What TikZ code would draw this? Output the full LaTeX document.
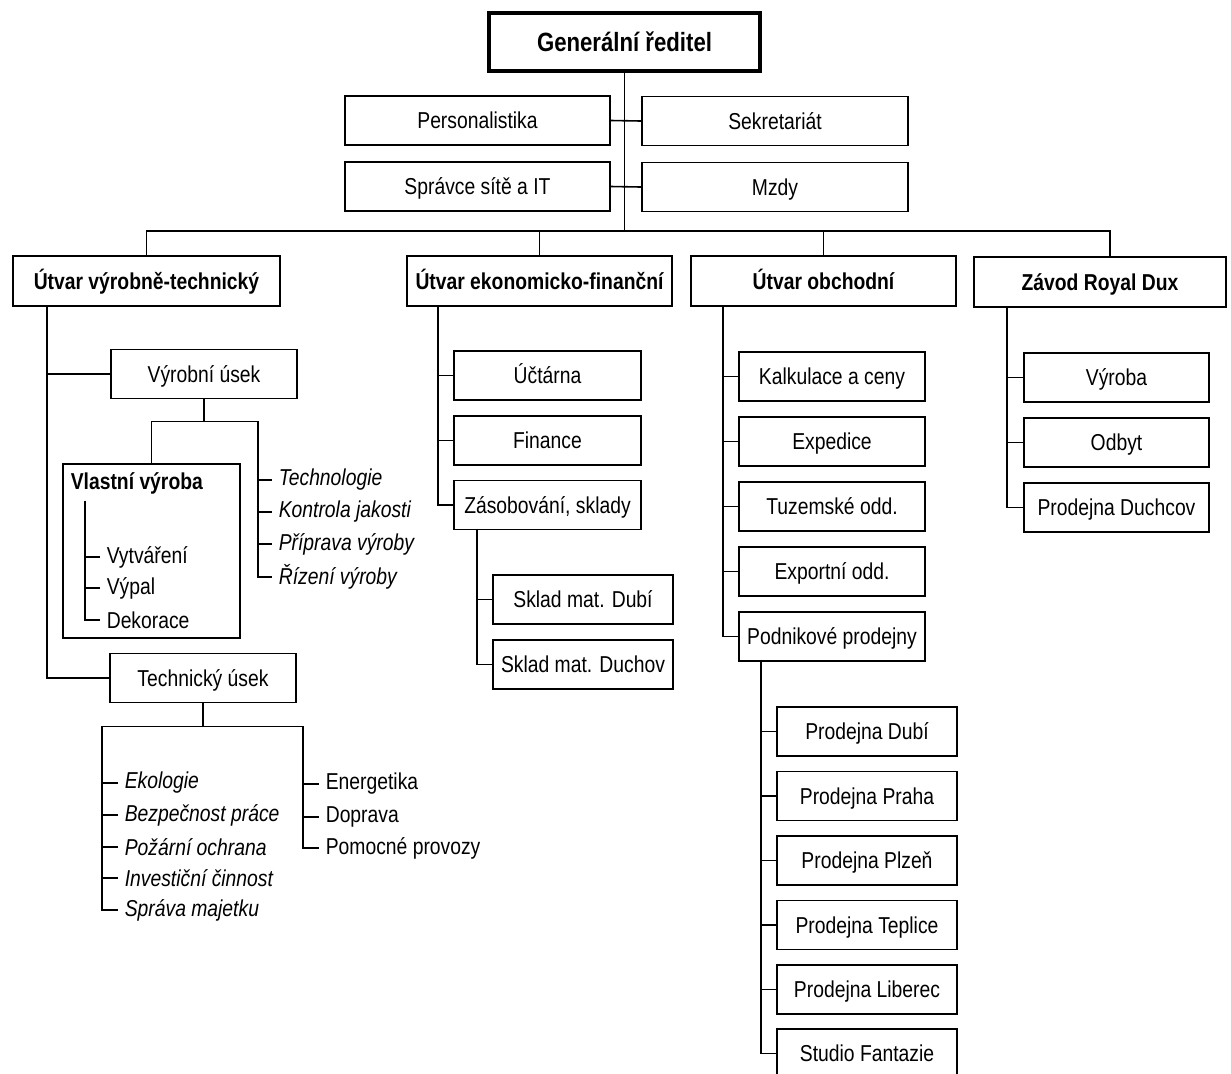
\documentclass[tikz,border=0pt]{standalone}
\usepackage{fontspec}
\setmainfont[FakeStretch=0.84]{Liberation Sans}

\begin{document}
\begin{tikzpicture}[
  x=0.5pt,y=-0.5pt,
  line width=0.8pt,
  every node/.style={font=\fontsize{11.5}{13}\selectfont},
  unit/.style={draw,line width=0.8pt,minimum height=24.5pt,inner sep=0pt,text height=8.5pt,text depth=0.3pt},
  head/.style={unit,minimum height=25pt,font=\fontsize{11.5}{13}\selectfont\bfseries},
  item/.style={anchor=west,inner sep=3pt},
  task/.style={item,font=\fontsize{11.5}{13}\selectfont\itshape}
]
  \useasboundingbox (0,0) rectangle (1231,1073);

  \node[draw,line width=2pt,minimum width=135.5pt,minimum height=29pt,inner sep=0pt,
        text height=9.6pt,text depth=0.3pt,
        font=\fontsize{13.2}{15}\selectfont\bfseries] (gr) at (624.5,42) {Generální ředitel};

  \node[unit,minimum width=132.5pt] (pers) at (477.5,120.5) {Personalistika};
  \node[unit,minimum width=133pt] (sekr) at (775,121) {Sekretariát};
  \node[unit,minimum width=132.5pt] (sprava) at (477.5,186.5) {Správce sítě a IT};
  \node[unit,minimum width=133pt] (mzdy) at (775,187) {Mzdy};

  \node[head,minimum width=133.5pt] (vt) at (146.5,281) {Útvar výrobně-technický};
  \node[head,minimum width=132.5pt] (ef) at (539.5,281) {Útvar ekonomicko-finanční};
  \node[head,minimum width=132.5pt] (ob) at (823.5,281) {Útvar obchodní};
  \node[head,minimum width=126pt] (rd) at (1100,282) {Závod Royal Dux};

  \coordinate (ybus) at (0,231);
  \coordinate (xrd) at (1110,0);
  \draw (gr.south) -- (gr.south |- ybus);
  \draw (vt.north) |- (xrd |- ybus) -- (xrd |- rd.north);
  \draw (ef.north) -- (ef.north |- ybus);
  \draw (ob.north) -- (ob.north |- ybus);
  \draw (pers.east) -- (sekr.west);
  \draw (sprava.east) -- (mzdy.west);

  % vyrobne-technicky
  \coordinate (xvt) at (47,0);
  \node[unit,minimum width=93pt] (vyr) at (204,374) {Výrobní úsek};
  \node[unit,minimum width=93pt] (tech) at (203,678) {Technický úsek};
  \draw (vt.south -| xvt) |- (tech.west);
  \draw (vyr.west) -- (vyr.west -| xvt);

  \node[draw,minimum width=88.5pt,minimum height=87pt,inner sep=0pt] (vlast) at (151.5,551) {};
  \node[item,font=\fontsize{11.5}{13}\selectfont\bfseries] (vlastT) at (64,483) {Vlastní výroba};
  \foreach \n/\y/\t in {vytv/557/Vytváření,vypal/588/Výpal,dek/620/Dekorace}
    \node[item] (\n) at (100,\y) {\t};
  \coordinate (xvl) at (85,0);
  \draw (vlastT.south -| xvl) |- (dek.west);
  \foreach \n in {vytv,vypal}
    \draw (\n.west -| xvl) -- (\n.west);

  \foreach \n/\y/\t in {tgl/480/Technologie,kj/512/Kontrola jakosti,pv/544/Příprava výroby,rv/577/Řízení výroby}
    \node[task] (\n) at (272,\y) {\t};
  \coordinate (xvr) at (258,0);
  \draw (vyr.south) -- ++(0,22) coordinate (vj);
  \draw (vlast.north) |- (vj) -| (rv.west -| xvr) -- (rv.west);
  \foreach \n in {tgl,kj,pv}
    \draw (\n.west -| xvr) -- (\n.west);

  \foreach \n/\y/\t in {eko/783/Ekologie,bp/815/Bezpečnost práce,po/847/Požární ochrana,ic/878/Investiční činnost,sm/910/Správa majetku}
    \node[task] (\n) at (118,\y) {\t};
  \foreach \n/\y/\t in {ener/784/Energetika,dop/817/Doprava,pp/848/Pomocné provozy}
    \node[item] (\n) at (319,\y) {\t};
  \coordinate (xtl) at (102,0);
  \coordinate (xtr) at (303,0);
  \draw (tech.south) -- ++(0,23) coordinate (tj);
  \draw (sm.west) -| (xtl |- tj) -- (xtr |- tj) |- (pp.west);
  \foreach \n in {eko,bp,po,ic}
    \draw (\n.west -| xtl) -- (\n.west);
  \foreach \n in {ener,dop}
    \draw (\n.west -| xtr) -- (\n.west);

  % ekonomicko-financni
  \coordinate (xef) at (438,0);
  \foreach \n/\y/\t in {uct/375.5/Účtárna,fin/440.5/Finance,zas/505/{Zásobování, sklady}}
    \node[unit,minimum width=93.5pt] (\n) at (547.5,\y) {\t};
  \draw (ef.south -| xef) |- (zas.west);
  \foreach \n in {uct,fin}
    \draw (\n.west -| xef) -- (\n.west);
  \coordinate (xsk) at (477,0);
  \foreach \n/\y/\t in {skd/599.5/Sklad mat. Dubí,skch/664.5/Sklad mat. Duchov}
    \node[unit,minimum width=90pt] (\n) at (583,\y) {\t};
  \draw (zas.south -| xsk) |- (skch.west);
  \draw (skd.west -| xsk) -- (skd.west);

  % obchodni
  \coordinate (xob) at (723,0);
  \foreach \n/\y/\t in {kalk/376.5/Kalkulace a ceny,exped/441.5/Expedice,tuz/506.5/Tuzemské odd.,expo/571.5/Exportní odd.,podn/636.5/Podnikové prodejny}
    \node[unit,minimum width=93pt] (\n) at (832,\y) {\t};
  \draw (ob.south -| xob) |- (podn.west);
  \foreach \n in {kalk,exped,tuz,expo}
    \draw (\n.west -| xob) -- (\n.west);
  \coordinate (xpr) at (761,0);
  \foreach \n/\y/\t in {pdub/731.5/Prodejna Dubí,ppra/796/Prodejna Praha,pplz/860.5/Prodejna Plzeň,ptep/925/Prodejna Teplice,plib/989.5/Prodejna Liberec,stf/1053.5/Studio Fantazie}
    \node[unit,minimum width=90pt] (\n) at (867,\y) {\t};
  \draw (podn.south -| xpr) |- (stf.west);
  \foreach \n in {pdub,ppra,pplz,ptep,plib}
    \draw (\n.west -| xpr) -- (\n.west);

  % Royal Dux
  \coordinate (xrdv) at (1007,0);
  \foreach \n/\y/\t in {rvyr/377.5/Výroba,rodb/442.5/Odbyt,rpd/507.5/Prodejna Duchcov}
    \node[unit,minimum width=92.5pt] (\n) at (1116.5,\y) {\t};
  \draw (rd.south -| xrdv) |- (rpd.west);
  \foreach \n in {rvyr,rodb}
    \draw (\n.west -| xrdv) -- (\n.west);
\end{tikzpicture}
\end{document}
